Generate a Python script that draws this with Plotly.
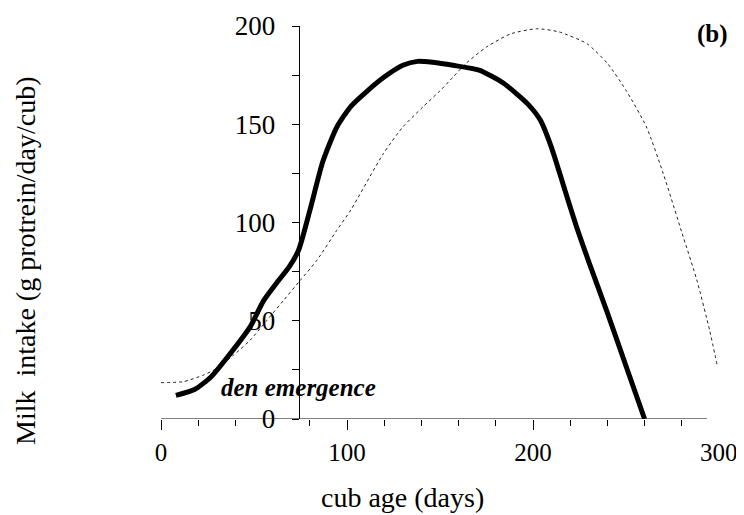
import plotly.graph_objects as go

# Observed milk intake (thick curve)
age_intake = [8, 18, 27, 37, 48, 55, 62, 69, 74, 80, 87, 94.5, 102, 111, 120, 130, 138, 146, 157,
              171, 184, 197, 204, 210, 216, 223, 230, 240, 250, 260]
intake = [12, 15, 21.5, 33, 47, 60, 69, 77.5, 86, 106, 131, 148.5, 159, 167, 174, 180, 182, 181.5, 180,
          177.5, 171, 160.5, 152, 138, 120, 99, 80, 54, 27, 0]

# Predicted / reference curve (thin dotted)
age_pred = [0, 12, 23, 30, 39, 48, 57, 66, 75, 84, 94.5, 102, 119.5, 130, 141, 150, 157, 164, 175, 188,
            202, 214, 229, 240, 250, 261, 270, 280, 288, 295, 299]
pred = [18.5, 19, 22.4, 25.8, 32.5, 40.2, 50.3, 60.5, 70.7, 81, 96, 106.3, 135, 148.6, 159, 167,
        174, 181, 189.3, 196, 198.6, 197, 191, 181, 167.3, 148.6, 125, 95, 71, 45, 27.5]

x_ticks = [0, 100, 200]
x_minor = [20, 40, 60, 80, 120, 140, 160, 180, 220, 240, 260, 280]
y_ticks = [0, 50, 100, 150, 200]
emergence_day = 74

SERIF = "Liberation Serif"

fig = go.Figure()
fig.add_trace(go.Scatter(x=age_pred, y=pred, mode="lines",
                         line=dict(color="#222", width=1, dash="dot", shape="spline", smoothing=0.6),
                         showlegend=False, hoverinfo="skip"))
fig.add_trace(go.Scatter(x=age_intake, y=intake, mode="lines",
                         line=dict(color="black", width=5, shape="spline", smoothing=0.6),
                         showlegend=False))

# page body has an 8px default margin, so the figure is drawn 8px smaller/shifted
OFF = 8
W, H = 744 - OFF, 515 - OFF
L, R, T, B = 161 - OFF, 25, 26 - OFF, 96
PW, PH = W - L - R, H - T - B


def px_x(px):
    return (px - OFF - L) / PW


def px_y(py):
    return (H - B - (py - OFF)) / PH


fig.update_layout(
    width=W, height=H,
    margin=dict(l=L, r=R, t=T, b=B, autoexpand=False),
    paper_bgcolor="white", plot_bgcolor="white",
    font=dict(family=SERIF, color="black"),
    xaxis=dict(range=[0, 300], showline=False, showgrid=False, zeroline=False,
               tickvals=x_ticks, ticks="outside", ticklen=10, tickcolor="black", tickwidth=1,
               tickfont=dict(family=SERIF, size=25), ticklabelstandoff=1,
               minor=dict(tickvals=x_minor, ticks="outside", ticklen=6, tickcolor="black", tickwidth=1)),
    yaxis=dict(range=[0, 200], anchor="free", position=emergence_day / 300,
               showline=True, linecolor="black", linewidth=1, showgrid=False, zeroline=False,
               tickvals=y_ticks, ticks="outside", ticklen=7, tickcolor="black", tickwidth=1,
               tickfont=dict(family=SERIF, size=27), ticklabelstandoff=11,
               minor=dict(dtick=25, tick0=0, ticks="outside", ticklen=7, tickcolor="black", tickwidth=1)),
)

# x-axis baseline (stops short of 300 as in the original)
fig.add_shape(type="line", xref="x", yref="y", x0=0, x1=293.5, y0=0, y1=0,
              line=dict(color="black", width=1))

fig.add_annotation(x=300, y=0, xref="x", yref="y", text="300", showarrow=False,
                   xanchor="center", yanchor="middle", yshift=-33, font=dict(family=SERIF, size=25))

fig.add_annotation(x=emergence_day, y=15.8, xref="x", yref="y", text="<b><i>den emergence</i></b>",
                   xanchor="center", yanchor="middle", showarrow=False, font=dict(family=SERIF, size=25))

fig.add_annotation(x=px_x(712), y=px_y(34), xref="paper", yref="paper",
                   text="<b>(b)</b>", showarrow=False, xanchor="center", yanchor="middle",
                   font=dict(family=SERIF, size=25))

fig.add_annotation(x=px_x(402), y=px_y(497), xref="paper", yref="paper",
                   text="cub age (days)", showarrow=False, xanchor="center", yanchor="middle",
                   font=dict(family=SERIF, size=28))

fig.add_annotation(x=px_x(25), y=px_y(261), xref="paper", yref="paper",
                   text="Milk  intake (g protrein/day/cub)", textangle=-90, showarrow=False,
                   xanchor="center", yanchor="middle", font=dict(family=SERIF, size=28))

fig.write_html("out.html")
